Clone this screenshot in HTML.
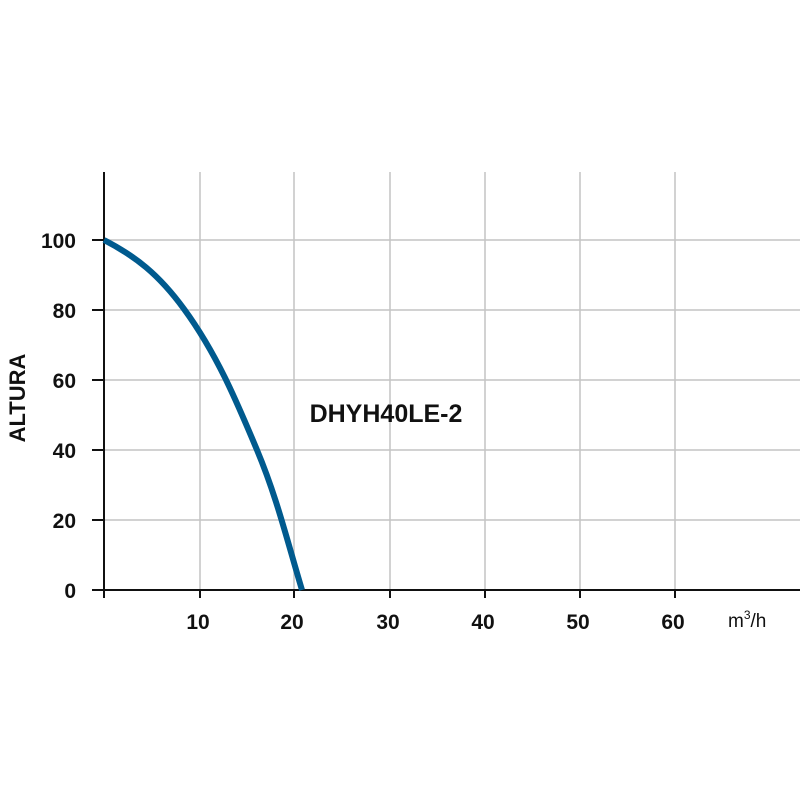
<!DOCTYPE html>
<html><head><meta charset="utf-8"><style>body{margin:0;background:#fff}</style></head><body>
<svg width="800" height="800" xmlns="http://www.w3.org/2000/svg" font-family="Liberation Sans, sans-serif">
<g stroke="#c4c4c4" stroke-width="1.5">
<line x1="200" y1="172" x2="200" y2="590"/><line x1="294" y1="172" x2="294" y2="590"/>
<line x1="390" y1="172" x2="390" y2="590"/><line x1="485" y1="172" x2="485" y2="590"/>
<line x1="580" y1="172" x2="580" y2="590"/><line x1="675" y1="172" x2="675" y2="590"/>
<line x1="104" y1="240" x2="800" y2="240"/><line x1="104" y1="310" x2="800" y2="310"/>
<line x1="104" y1="380" x2="800" y2="380"/><line x1="104" y1="450" x2="800" y2="450"/>
<line x1="104" y1="520" x2="800" y2="520"/>
</g>
<g stroke="#111" stroke-width="2">
<line x1="104" y1="172" x2="104" y2="598"/><line x1="92" y1="590" x2="800" y2="590"/>
<line x1="92" y1="240" x2="104" y2="240"/><line x1="92" y1="310" x2="104" y2="310"/>
<line x1="92" y1="380" x2="104" y2="380"/><line x1="92" y1="450" x2="104" y2="450"/>
<line x1="92" y1="520" x2="104" y2="520"/>
<line x1="200" y1="590" x2="200" y2="598"/><line x1="294" y1="590" x2="294" y2="598"/>
<line x1="390" y1="590" x2="390" y2="598"/><line x1="485" y1="590" x2="485" y2="598"/>
<line x1="580" y1="590" x2="580" y2="598"/><line x1="675" y1="590" x2="675" y2="598"/>
</g>
<path d="M104,240 C135,256 158.5,274 184,309 C217,354 237.3,403 257,450 C276.7,497 287,540 302,590" fill="none" stroke="#005a8e" stroke-width="6"/>
<g font-size="21" fill="#111" text-anchor="end" font-weight="bold">
<text x="76" y="248">100</text><text x="76" y="318">80</text><text x="76" y="388">60</text>
<text x="76" y="458">40</text><text x="76" y="528">20</text><text x="76" y="598">0</text>
</g>
<g font-size="21" fill="#111" text-anchor="middle" font-weight="bold">
<text x="198" y="629">10</text><text x="292" y="629">20</text><text x="388" y="629">30</text>
<text x="483" y="629">40</text><text x="578" y="629">50</text><text x="673" y="629">60</text>
</g>
<text x="728" y="627" font-size="19" fill="#111">m<tspan font-size="12" dy="-8">3</tspan><tspan dy="8">/h</tspan></text>
<text x="386" y="422" font-size="25" font-weight="bold" fill="#111" text-anchor="middle">DHYH40LE-2</text>
<text transform="translate(25,398) rotate(-90)" font-size="22" font-weight="bold" fill="#111" text-anchor="middle">ALTURA</text>
</svg>
</body></html>
